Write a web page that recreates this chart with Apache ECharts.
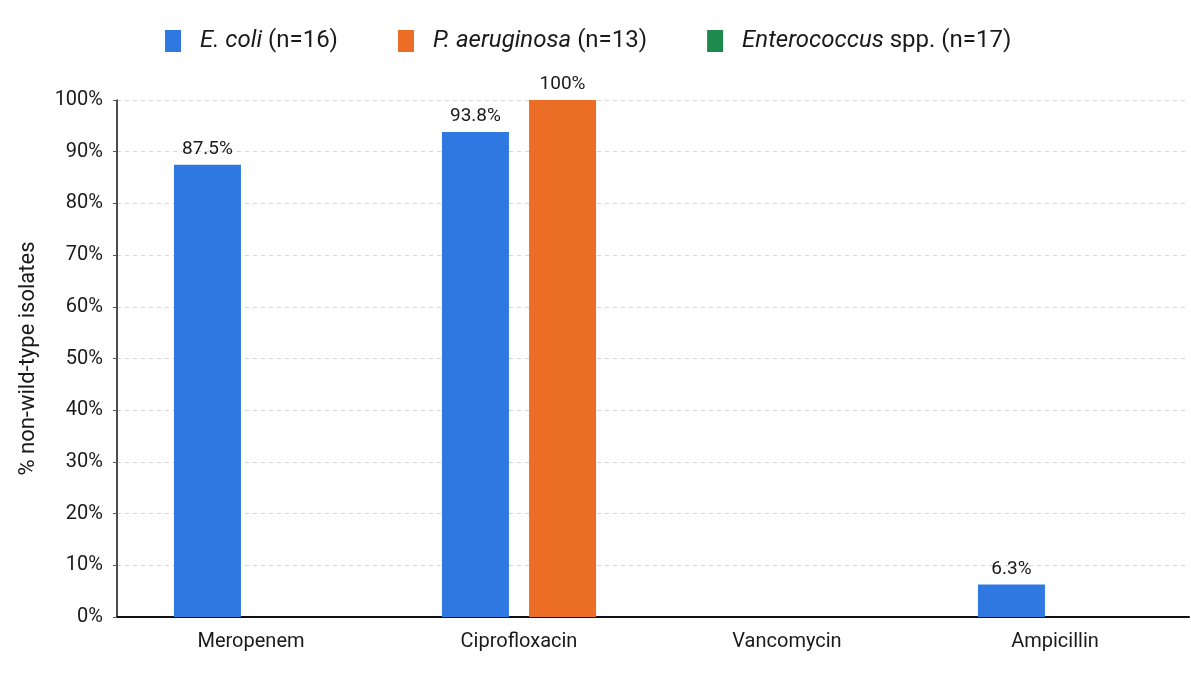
<!DOCTYPE html>
<html>
<head>
<meta charset="utf-8">
<script src="https://cdn.jsdelivr.net/npm/echarts@6/dist/echarts.min.js"></script>
<style>
  html, body { margin: 0; padding: 0; background: #fff; }
  #chart { width: 1191px; height: 679px; }
</style>
</head>
<body>
<div id="chart"></div>
<script>
// drugs on the x axis
var drugs = ['Meropenem', 'Ciprofloxacin', 'Vancomycin', 'Ampicillin']
// organisms: italic part, plain suffix, isolate count
var organisms = ['E. coli', 'P. aeruginosa', 'Enterococcus']
var suffixes = ['', '', ' spp.']
var counts = [16, 13, 17]
// % non-wild-type per drug (null = not tested)
var ecoli = [87.5, 93.8, null, 6.3]
var paeruginosa = [null, 100, null, null]
var enterococcus = [null, null, 0, 0]

var colors = ['#2f78e2', '#ec6d26', '#1f8a4d']
var font = 'Roboto, "Liberation Sans", Arial, sans-serif'

var legendNames = organisms.map(function (o, i) {
    return o + suffixes[i] + ' (n=' + counts[i] + ')'
})

function fmtLabel (p) {
    if (p.value == null || p.value === 0) return ''
    return p.value + '%'
}

function barSeries (idx, data, stack) {
    return {
        name: legendNames[idx],
        type: 'bar',
        stack: stack,
        data: data,
        barWidth: 67,
        barGap: '30%',
        itemStyle: { color: colors[idx] },
        label: {
            show: true,
            position: 'top',
            distance: 6,
            color: '#1a1a1a',
            fontSize: 19,
            fontFamily: font,
            formatter: fmtLabel
        }
    }
}

var chart = echarts.init(document.getElementById('chart'))
var option = {
    backgroundColor: '#fff',
    animation: false,
    legend: {
        top: 24,
        left: 160,
        itemWidth: 16,
        itemHeight: 22,
        itemGap: 60,
        icon: 'rect',
        data: legendNames,
        formatter: function (name) {
            var i = legendNames.indexOf(name)
            return '{it|' + organisms[i] + '}{rg|' + suffixes[i] + ' (n=' + counts[i] + ')}'
        },
        textStyle: {
            padding: [0, 0, 0, 14],
            rich: {
                it: { fontSize: 24, fontStyle: 'italic', fontFamily: font, color: '#1a1a1a' },
                rg: { fontSize: 24, fontFamily: font, color: '#1a1a1a' }
            }
        }
    },
    grid: {
        left: 117,
        right: 2,
        top: 100,
        bottom: 62
    },
    xAxis: {
        type: 'category',
        data: drugs,
        axisLine: { lineStyle: { color: '#111', width: 2 } },
        axisTick: { show: false },
        axisLabel: {
            color: '#1a1a1a',
            fontSize: 20,
            fontFamily: font,
            margin: 15
        }
    },
    yAxis: {
        type: 'value',
        min: 0,
        max: 100,
        interval: 10,
        name: '% non-wild-type isolates',
        nameLocation: 'middle',
        nameGap: 78,
        nameTextStyle: { fontSize: 22, color: '#1a1a1a', fontFamily: font },
        axisLine: { show: true, lineStyle: { color: '#111', width: 1.5 } },
        axisTick: { show: true, length: 4, lineStyle: { color: '#555' } },
        axisLabel: {
            formatter: '{value}%',
            color: '#1a1a1a',
            fontSize: 20,
            fontFamily: font,
            margin: 14
        },
        splitLine: { lineStyle: { color: '#d6d6d6', type: [4, 4] } }
    },
    series: [
        barSeries(0, ecoli, 'ec'),
        barSeries(1, paeruginosa, 'pa'),
        barSeries(2, enterococcus, 'pa')
    ]
}
chart.setOption(option)
window.addEventListener('resize', function () { chart.resize() })
</script>
</body>
</html>
